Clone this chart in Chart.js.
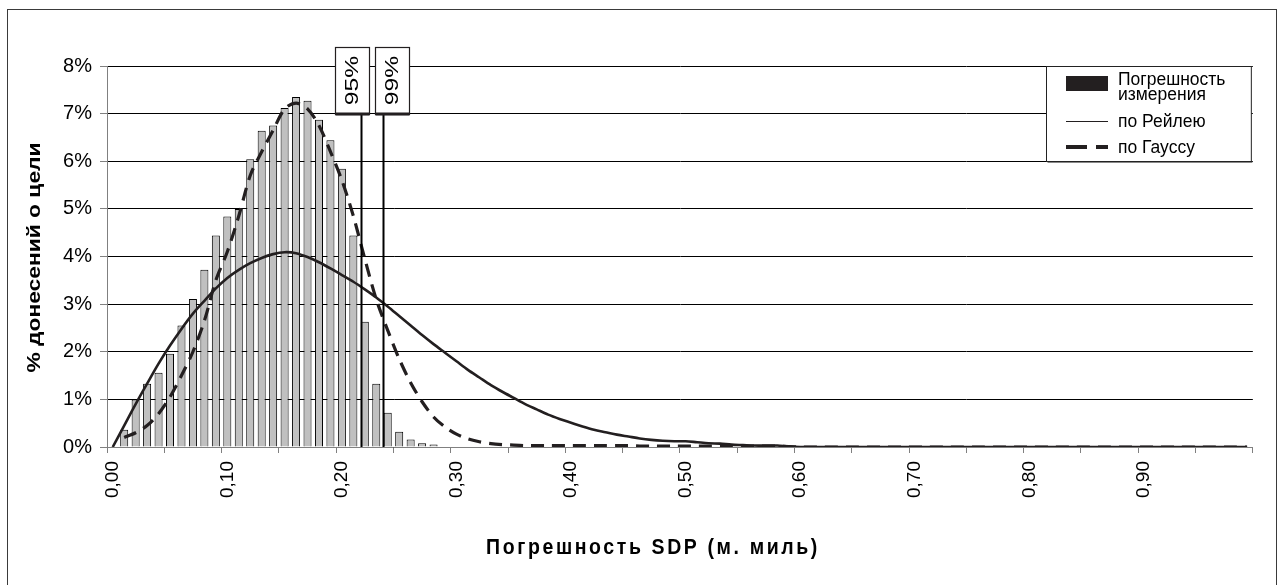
<!DOCTYPE html>
<html lang="ru">
<head>
<meta charset="utf-8">
<title>Погрешность SDP</title>
<script src="https://cdn.jsdelivr.net/npm/chart.js@4.4.1/dist/chart.umd.min.js"></script>
<style>
  html, body { margin: 0; padding: 0; background: #fff; }
  #wrap { width: 1278px; height: 585px; }
  canvas { display: block; }
</style>
</head>
<body>
<div id="wrap"><canvas id="chart" width="1278" height="585"></canvas></div>
<script>
// Error bins, 0.01 nautical mile wide
const categories = [
  '0,00','0,01','0,02','0,03','0,04','0,05','0,06','0,07','0,08','0,09',
  '0,10','0,11','0,12','0,13','0,14','0,15','0,16','0,17','0,18','0,19',
  '0,20','0,21','0,22','0,23','0,24','0,25','0,26','0,27','0,28','0,29',
  '0,30','0,31','0,32','0,33','0,34','0,35','0,36','0,37','0,38','0,39',
  '0,40','0,41','0,42','0,43','0,44','0,45','0,46','0,47','0,48','0,49',
  '0,50','0,51','0,52','0,53','0,54','0,55','0,56','0,57','0,58','0,59',
  '0,60','0,61','0,62','0,63','0,64','0,65','0,66','0,67','0,68','0,69',
  '0,70','0,71','0,72','0,73','0,74','0,75','0,76','0,77','0,78','0,79',
  '0,80','0,81','0,82','0,83','0,84','0,85','0,86','0,87','0,88','0,89',
  '0,90','0,91','0,92','0,93','0,94','0,95','0,96','0,97','0,98','0,99'
];
const binStep = 0.01;

// Measured error, % of target reports per bin
const measured = [
  0, 0.36, 1.0, 1.33, 1.56, 1.96, 2.55, 3.11, 3.72, 4.44,
  4.84, 5.0, 6.04, 6.64, 6.75, 7.12, 7.35, 7.27, 6.87, 6.44,
  5.84, 4.44, 2.63, 1.33, 0.72, 0.32, 0.16, 0.08, 0.05, 0,
  0, 0, 0, 0, 0, 0, 0, 0, 0, 0,
  0, 0, 0, 0, 0, 0, 0, 0, 0, 0,
  0, 0, 0, 0, 0, 0, 0, 0, 0, 0,
  0, 0, 0, 0, 0, 0, 0, 0, 0, 0,
  0, 0, 0, 0, 0, 0, 0, 0, 0, 0,
  0, 0, 0, 0, 0, 0, 0, 0, 0, 0,
  0, 0, 0, 0, 0, 0, 0, 0, 0, 0
];

// Rayleigh fit
const rayleigh = [
  0, 0.45, 0.9, 1.33, 1.75, 2.13, 2.48, 2.8, 3.07, 3.33,
  3.55, 3.72, 3.86, 3.97, 4.05, 4.09, 4.07, 3.99, 3.88, 3.75,
  3.61, 3.47, 3.31, 3.14, 2.95, 2.75, 2.55, 2.35, 2.16, 1.98,
  1.8, 1.62, 1.46, 1.3, 1.16, 1.03, 0.9, 0.79, 0.68, 0.59,
  0.51, 0.43, 0.36, 0.31, 0.26, 0.22, 0.18, 0.15, 0.13, 0.12,
  0.12, 0.1, 0.08, 0.07, 0.05, 0.04, 0.03, 0.03, 0.03, 0.01,
  0, 0, 0, 0, 0, 0, 0, 0, 0, 0,
  0, 0, 0, 0, 0, 0, 0, 0, 0, 0,
  0, 0, 0, 0, 0, 0, 0, 0, 0, 0,
  0, 0, 0, 0, 0, 0, 0, 0, 0, 0
];

// Gaussian fit
const gauss = [
  null, 0.2, 0.3, 0.45, 0.7, 1.05, 1.5, 2.0, 2.65, 3.5,
  4.1, 4.85, 5.7, 6.2, 6.65, 7.1, 7.22, 7.1, 6.75, 6.2,
  5.6, 4.85, 3.95, 3.1, 2.45, 1.85, 1.35, 0.95, 0.63, 0.42,
  0.27, 0.17, 0.11, 0.07, 0.05, 0.04, 0.03, 0.03, 0.03, 0.03,
  0.03, 0.03, 0.03, 0.03, 0.03, 0.03, 0.02, 0.02, 0.02, 0.02,
  0.02, 0.02, 0.02, 0.02, 0.02, 0.02, 0.02, 0.02, 0.02, 0.01,
  0, 0, 0, 0, 0, 0, 0, 0, 0, 0,
  0, 0, 0, 0, 0, 0, 0, 0, 0, 0,
  0, 0, 0, 0, 0, 0, 0, 0, 0, 0,
  0, 0, 0, 0, 0, 0, 0, 0, 0, 0
];

const xTickLabels = ['0,00','0,10','0,20','0,30','0,40','0,50','0,60','0,70','0,80','0,90'];
const yTickLabels = ['0%','1%','2%','3%','4%','5%','6%','7%','8%'];

// Error radius containing 95% / 99% of reports, nautical miles
const confidenceLevels = ['95%', '99%'];
const confidenceAt = [0.2165, 0.2357];

const seriesNames = ['Погрешность измерения', 'по Рейлею', 'по Гауссу'];
const xTitle = 'Погрешность SDP (м. миль)';
const yTitle = '% донесений о цели';

const FONT = "'Liberation Sans', Arial, Helvetica, sans-serif";
const INK = '#231f20';

// Frame, axis titles, confidence markers and the legend panel
const overlay = {
  id: 'overlay',
  afterDraw(chart) {
    const { ctx, chartArea: area, scales: { x, y } } = chart;
    ctx.save();

    ctx.strokeStyle = '#3a3a3a';
    ctx.lineWidth = 1;
    ctx.strokeRect(7.5, 9.5, 1269, 600);

    // axis titles
    ctx.fillStyle = '#000';
    ctx.textAlign = 'center';
    ctx.textBaseline = 'middle';
    ctx.font = 'bold 19px ' + FONT;
    ctx.save();
    ctx.translate(35, (area.top + area.bottom) / 2 + 1);
    ctx.rotate(-Math.PI / 2);
    ctx.scale(1.2, 1);
    ctx.fillText(yTitle, 0, 0);
    ctx.restore();

    ctx.save();
    ctx.font = 'bold 19.5px ' + FONT;
    if ('letterSpacing' in ctx) ctx.letterSpacing = '2.6px';
    ctx.translate(653, 548);
    ctx.scale(1, 1.1);
    ctx.fillText(xTitle, 0, 0);
    ctx.restore();

    // 95% / 99% markers
    const boxTop = 47, boxW = 34, shift = [-10, 8];
    const boxBottom = Math.round(y.getPixelForValue(7));
    confidenceLevels.forEach((lbl, i) => {
      const px = Math.round(x.getPixelForValue(confidenceAt[i] / binStep)) + 0.5;
      ctx.strokeStyle = '#000';
      ctx.lineWidth = 2;
      ctx.beginPath();
      ctx.moveTo(px, boxBottom);
      ctx.lineTo(px, area.bottom);
      ctx.stroke();

      const cx = px + shift[i];
      const bx = Math.round(cx - boxW / 2) + 0.5;
      ctx.fillStyle = '#fff';
      ctx.fillRect(bx, boxTop, boxW, boxBottom - boxTop);
      ctx.strokeStyle = INK;
      ctx.lineWidth = 1.2;
      ctx.strokeRect(bx, boxTop + 0.5, boxW, boxBottom - boxTop);
      ctx.lineWidth = 3;
      ctx.beginPath();
      ctx.moveTo(bx, boxBottom);
      ctx.lineTo(bx + boxW, boxBottom);
      ctx.stroke();

      ctx.save();
      ctx.translate(cx + 1, (boxTop + boxBottom) / 2);
      ctx.rotate(-Math.PI / 2);
      ctx.scale(1.3, 1);
      ctx.fillStyle = '#000';
      ctx.font = '19px ' + FONT;
      ctx.textAlign = 'center';
      ctx.textBaseline = 'middle';
      ctx.fillText(lbl, 0, 0);
      ctx.restore();
    });

    // legend panel
    const L = 1046.5, T = area.top + 0.5, R = area.right - 1.5, B = 161.5;
    ctx.fillStyle = '#fff';
    ctx.fillRect(L, T, R - L, B - T);
    ctx.strokeStyle = '#222';
    ctx.lineWidth = 1;
    ctx.strokeRect(L, T, R - L, B - T);
    ctx.strokeStyle = '#888';
    ctx.beginPath();
    ctx.moveTo(L + 1, B + 1);
    ctx.lineTo(R + 1, B + 1);
    ctx.stroke();

    const ds = chart.data.datasets;
    const bar = ds.find(d => d.type === 'bar');
    const ray = ds.find(d => d.label === seriesNames[1]);
    const gau = ds.find(d => d.label === seriesNames[2]);
    const sx = 1066, sw = 42, tx = 1118;

    ctx.font = '17.5px ' + FONT;
    ctx.textAlign = 'left';
    ctx.textBaseline = 'middle';

    ctx.fillStyle = INK;
    ctx.fillRect(sx, 76, sw, 15);
    ctx.fillStyle = '#000';
    const words = bar.label.split(' ');
    ctx.fillText(words[0], tx, 80);
    ctx.fillText(words[1], tx, 95);

    ctx.strokeStyle = INK;
    ctx.lineWidth = 1;
    ctx.beginPath();
    ctx.moveTo(sx, 121.5);
    ctx.lineTo(sx + sw, 121.5);
    ctx.stroke();
    ctx.fillText(ray.label, tx, 122);

    ctx.lineWidth = 4;
    ctx.setLineDash([21, 9]);
    ctx.beginPath();
    ctx.moveTo(sx, 147);
    ctx.lineTo(sx + sw, 147);
    ctx.stroke();
    ctx.setLineDash([]);
    ctx.fillText(gau.label, tx, 148);

    ctx.restore();
  }
};

new Chart(document.getElementById('chart'), {
  type: 'bar',
  data: {
    labels: categories,
    datasets: [
      {
        type: 'line', label: seriesNames[2], data: gauss,
        borderColor: INK, borderWidth: 3.2, borderDash: [13, 8],
        pointRadius: 0, tension: 0.3, order: 1
      },
      {
        type: 'line', label: seriesNames[1], data: rayleigh,
        borderColor: INK, borderWidth: 2.6,
        pointRadius: 0, tension: 0.3, order: 2
      },
      {
        type: 'bar', label: seriesNames[0], data: measured,
        backgroundColor: '#c0c0c0', borderColor: '#000', borderWidth: 1,
        barPercentage: 0.7, categoryPercentage: 1, order: 3
      }
    ]
  },
  options: {
    responsive: false,
    animation: false,
    devicePixelRatio: 1,
    layout: { padding: { left: 0, top: 66, right: 20, bottom: 0 } },
    plugins: { legend: { display: false }, tooltip: { enabled: false } },
    scales: {
      x: {
        type: 'category',
        offset: true,
        grid: {
          offset: true, drawOnChartArea: false, drawTicks: true, tickLength: 6,
          tickColor: c => (c.type !== 'tick' || c.index % 5 === 0) ? '#808080' : 'rgba(0,0,0,0)'
        },
        border: { display: true, color: '#808080', width: 1 },
        ticks: {
          autoSkip: false, minRotation: 90, maxRotation: 90, padding: 8, color: '#000',
          font: { family: FONT, size: 19 },
          callback: (v, i) => xTickLabels.includes(categories[i]) ? categories[i] : ''
        },
        title: { display: false, text: xTitle },
        afterFit: s => { s.height = 138; }
      },
      y: {
        min: 0, max: 8,
        grid: { color: '#000', lineWidth: 1, tickLength: 7, tickColor: '#808080' },
        border: { display: true, color: '#808080', width: 1 },
        ticks: {
          stepSize: 1, padding: 8, color: '#000',
          font: { family: FONT, size: 20 },
          callback: (v, i) => yTickLabels[i]
        },
        title: { display: false, text: yTitle },
        afterFit: s => { s.width = 107; }
      }
    }
  },
  plugins: [overlay]
});
</script>
</body>
</html>
